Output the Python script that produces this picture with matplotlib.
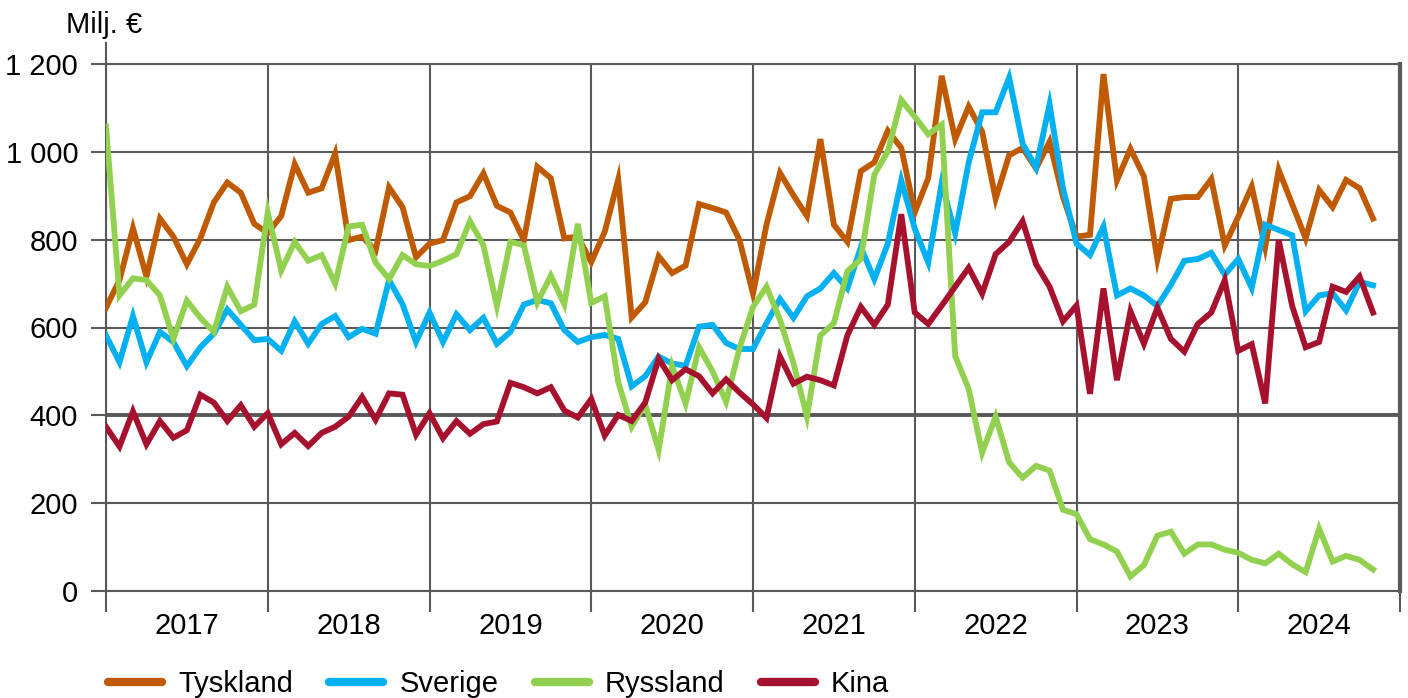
import numpy as np
import matplotlib.pyplot as plt
from matplotlib.lines import Line2D

plt.rcParams['font.family'] = ['Liberation Sans', 'DejaVu Sans']

# Monthly values, Jan 2017 - Nov 2024 (Milj. €)
tyskland = [645, 708, 826, 716, 848, 807, 744, 803, 885, 930, 907, 836,
            815, 854, 972, 907, 917, 996, 799, 807, 775, 919, 874, 760,
            791, 799, 885, 899, 951, 877, 862, 799, 966, 940, 803, 807,
            749, 818, 937, 623, 657, 762, 724, 741, 881, 872, 862, 799,
            677, 834, 952, 901, 854, 1029, 834, 795, 956, 976, 1048, 1009,
            862, 940, 1173, 1029, 1103, 1046, 893, 992, 1009, 962, 1023, 897,
            807, 811, 1177, 935, 1007, 944, 755, 893, 897, 897, 938, 787,
            852, 921, 783, 959, 881, 803, 913, 874, 936, 917, 848]
sverige = [582, 521, 626, 521, 590, 567, 512, 555, 586, 641, 606, 571,
           574, 547, 614, 563, 608, 626, 578, 597, 586, 708, 653, 567,
           634, 567, 630, 594, 622, 563, 590, 652, 663, 655, 594, 567,
           578, 583, 574, 466, 489, 534, 518, 513, 602, 606, 565, 551,
           551, 610, 665, 622, 671, 689, 724, 689, 783, 710, 791, 935,
           825, 748, 929, 814, 976, 1090, 1090, 1169, 1019, 964, 1108, 917,
           791, 765, 830, 673, 689, 673, 649, 697, 752, 756, 770, 720,
           756, 690, 834, 822, 810, 637, 673, 678, 639, 704, 696]
ryssland = [1058, 673, 712, 708, 673, 574, 661, 622, 590, 693, 637, 652,
            862, 730, 795, 752, 765, 700, 830, 834, 748, 710, 765, 744,
            740, 752, 767, 842, 787, 649, 795, 787, 657, 718, 653, 836,
            656, 671, 476, 374, 425, 321, 512, 427, 555, 500, 431, 553,
            647, 693, 618, 519, 397, 582, 610, 728, 756, 948, 1001, 1118,
            1080, 1040, 1062, 535, 460, 315, 397, 293, 258, 285, 274, 185,
            175, 118, 106, 90, 33, 59, 126, 135, 85, 106, 106, 94,
            87, 71, 63, 85, 61, 43, 142, 67, 80, 71, 49]
kina = [374, 329, 409, 334, 387, 349, 366, 447, 429, 387, 423, 374,
        405, 334, 360, 330, 360, 374, 397, 442, 390, 450, 447, 356,
        405, 348, 387, 358, 380, 386, 474, 464, 450, 464, 411, 395,
        437, 354, 401, 387, 429, 529, 480, 505, 489, 450, 482, 452,
        425, 394, 534, 472, 488, 480, 468, 582, 647, 606, 652, 858,
        634, 608, 650, 693, 736, 677, 767, 795, 842, 744, 693, 614,
        650, 449, 689, 480, 637, 563, 645, 574, 545, 608, 634, 708,
        547, 562, 427, 799, 649, 555, 567, 693, 681, 716, 634]

years = ['2017', '2018', '2019', '2020', '2021', '2022', '2023', '2024']
yticks = [0, 200, 400, 600, 800, 1000, 1200]
ytick_labels = ['0', '200', '400', '600', '800', '1 000', '1 200']

series = [('Tyskland', tyskland, '#C05A00'),
          ('Sverige', sverige, '#00B0F0'),
          ('Ryssland', ryssland, '#92D050'),
          ('Kina', kina, '#A6122D')]

grid_c = '#595959'
fs = 21
W, H = 1408, 698
fig = plt.figure(figsize=(W / 100, H / 100), dpi=100)
ax = fig.add_axes([106 / W, 1 - 591 / H, (1400 - 106) / W, (591 - 64) / H])

x = np.arange(len(tyskland))
for name, vals, col in series:
    ax.plot(x, vals, color=col, lw=4.2, solid_joinstyle='miter', zorder=3)

ax.set_xlim(0, 12 * len(years))
ax.set_ylim(0, 1200)
ax.set_xticks(np.arange(0, 12 * len(years) + 1, 12))
ax.set_xticklabels([])
ax.set_xticks(np.arange(6, 12 * len(years), 12), minor=True)
ax.set_xticklabels(years, minor=True, fontsize=fs)
ax.set_yticks(yticks)
ax.set_yticklabels(ytick_labels, fontsize=fs)

ax.tick_params(axis='x', which='major', length=15, width=1.5, color=grid_c)
ax.tick_params(axis='x', which='minor', length=0, pad=15)
ax.tick_params(axis='y', length=11, width=1.5, color=grid_c, pad=9)

ax.grid(True, color=grid_c, lw=1.5, zorder=1)
ax.set_axisbelow(True)
ax.axhline(400, color=grid_c, lw=2.8, zorder=2)
for s in ['left', 'bottom', 'top']:
    ax.spines[s].set_color(grid_c)
    ax.spines[s].set_linewidth(1.5)
ax.spines['right'].set_color(grid_c)
ax.spines['right'].set_linewidth(3)
ax.plot([0, 0], [1, 1.04], transform=ax.transAxes, color=grid_c, lw=1.5,
        clip_on=False)

fig.text(104 / W, 1 - 25 / H, 'Milj. €', ha='center', va='center', fontsize=fs)

handles = [Line2D([], [], color=c, lw=6, solid_capstyle='round') for _, _, c in series]
fig.legend(handles, [n for n, _, _ in series], loc='center left',
           bbox_to_anchor=(108 / W, 1 - 684 / H), ncol=4, frameon=False,
           fontsize=fs, handlelength=1.85, handletextpad=0.55, columnspacing=1.25,
           borderpad=0, borderaxespad=0)

fig.savefig('out.png', dpi=100)
